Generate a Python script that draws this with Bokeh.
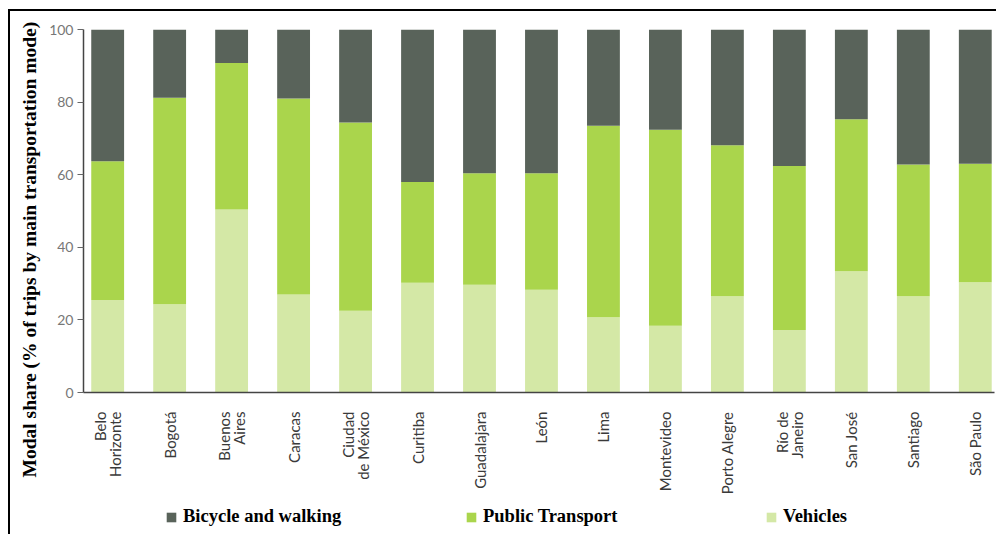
import math
from bokeh.plotting import figure
from bokeh.layouts import column
from bokeh.models import ColumnDataSource, Range1d, FixedTicker, Legend, LegendItem, Title
from bokeh.embed import file_html
from bokeh.resources import INLINE

cities = ["Belo\nHorizonte", "Bogotá", "Buenos\nAires", "Caracas", "Ciudad\nde México",
          "Curitiba", "Guadalajara", "León", "Lima", "Montevideo", "Porto Alegre",
          "Río de\nJaneiro", "San José", "Santiago", "São Paulo"]
vehicles = [25.5, 24.3, 50.4, 27.0, 22.5, 30.2, 29.7, 28.3, 20.7, 18.4, 26.5, 17.2, 33.4, 26.5, 30.4]
public_transport = [38.2, 56.9, 40.4, 54.0, 51.9, 27.8, 30.7, 32.1, 52.8, 54.0, 41.6, 45.2, 41.9, 36.3, 32.6]
bicycle_walking = [36.3, 18.8, 9.2, 19.0, 25.6, 42.0, 39.6, 39.6, 26.5, 27.6, 31.9, 37.6, 24.7, 37.2, 37.0]
y_ticks = [0, 20, 40, 60, 80, 100]
series_names = ["Vehicles", "Public Transport", "Bicycle and walking"]
colors = ["#d4e8a6", "#aad54c", "#59635a"]

positions = list(range(len(cities)))
src = ColumnDataSource(dict(x=positions, veh=vehicles, pt=public_transport, bw=bicycle_walking))
xr = Range1d(-0.39, len(cities) - 1 + 0.31)

p = figure(width=988, height=490, output_backend="svg", toolbar_location=None,
           x_range=xr, y_range=Range1d(0, 100),
           min_border_left=73, min_border_right=4, min_border_top=18, min_border_bottom=109)
p.margin = (9, 0, 0, 8)
p.styles = {"border-left": "2px solid black", "border-top": "2px solid black"}
p.outline_line_color = None
p.xgrid.grid_line_color = None
p.ygrid.grid_line_color = None

p.vbar_stack(["veh", "pt", "bw"], x="x", width=0.53, color=colors, line_color=None, source=src)

xa = p.xaxis[0]
xa.ticker = FixedTicker(ticks=positions)
xa.major_label_overrides = {i: c for i, c in enumerate(cities)}
xa.major_label_orientation = math.pi / 2
xa.major_tick_line_color = None
xa.minor_tick_line_color = None
xa.axis_line_color = "#444444"
xa.axis_line_width = 1.5
xa.major_label_text_font = "Lato"
xa.major_label_text_font_size = "15px"
xa.major_label_text_line_height = 0.85
xa.major_label_text_color = "#3a3a3a"
xa.major_label_standoff = 13

ya = p.yaxis[0]
ya.ticker = FixedTicker(ticks=y_ticks)
ya.minor_tick_line_color = None
ya.major_tick_out = 6
ya.major_tick_in = 0
ya.major_tick_line_color = "#666666"
ya.axis_line_color = "#444444"
ya.axis_line_width = 1.5
ya.major_label_text_font = "Lato"
ya.major_label_text_font_size = "14px"
ya.major_label_text_color = "#777777"
ya.major_label_standoff = 4

p.add_layout(Title(text="Modal share (% of trips by main transportation mode)", align="left",
                   offset=-85, standoff=13, text_font="Liberation Serif", text_font_style="bold",
                   text_font_size="19.5px", text_color="black"), "left")

# legend strip: same stacked bars, drawn outside its visible y-range, only its legend shows
p2 = figure(width=988, height=35, output_backend="svg", toolbar_location=None,
            x_range=xr, y_range=Range1d(1000, 1001), x_axis_location=None, y_axis_location=None,
            min_border=0, min_border_left=0, min_border_right=0, min_border_top=0, min_border_bottom=0)
p2.margin = (0, 0, 0, 8)
p2.styles = {"border-left": "2px solid black"}
p2.outline_line_color = None
p2.xgrid.grid_line_color = None
p2.ygrid.grid_line_color = None
rs = p2.vbar_stack(["veh", "pt", "bw"], x="x", width=0.53, color=colors, line_color=None, source=src)

legend = Legend(items=[LegendItem(label=series_names[2], renderers=[rs[2]]),
                       LegendItem(label=series_names[1], renderers=[rs[1]]),
                       LegendItem(label=series_names[0], renderers=[rs[0]])],
                orientation="horizontal", location=(82, 7), padding=0, margin=0,
                spacing=0, glyph_width=12, glyph_height=12, label_standoff=6, label_width=282,
                label_text_font="Liberation Serif", label_text_font_style="bold",
                label_text_font_size="18.5px", label_text_color="black",
                border_line_color=None, background_fill_alpha=0)
p2.add_layout(legend)

layout = column(p, p2, spacing=0)
open("out.html", "w").write(file_html(layout, INLINE))
